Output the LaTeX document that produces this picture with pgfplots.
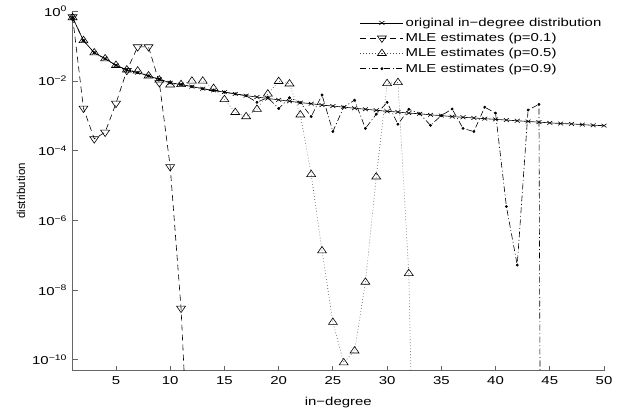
\documentclass[border=0pt]{standalone}
\usepackage{pgfplots}
\pgfplotsset{compat=1.18}
\usepackage{fontspec}
\setmainfont{Liberation Sans}[FakeStretch=1.3]
\newfontfamily\plainsans{Liberation Sans}
\newcommand\pw[1]{10\textsuperscript{#1}}
\definecolor{axgray}{gray}{0.4}
\begin{document}
\begin{tikzpicture}
\begin{axis}[
  scale only axis, width=531.4pt, height=359.4pt,
  xmin=1, xmax=50, ymode=log, ymin=4.9e-11, ymax=1,
  axis lines*=left,
  axis line style={axgray, line width=1pt},
  tick align=inside, major tick length=5pt,
  tick style={axgray, line width=0.8pt},
  yminorticks=false,
  xtick={5,10,...,50},
  ytick={1,1e-2,1e-4,1e-6,1e-8,1e-10},
  yticklabels={\pw{0},\pw{−2},\pw{−4},\pw{−6},\pw{−8},\pw{−10}},
  /pgf/number format/assume math mode=true,
  ticklabel style={font=\fontsize{11.5pt}{13pt}\selectfont},
  xticklabel style={yshift=-2.5pt},
  yticklabel style={xshift=-2pt},
  xlabel={in−degree},
  xlabel style={font=\fontsize{11.5pt}{13pt}\selectfont, yshift=-5pt},
  ylabel={distribution},
  ylabel style={font=\plainsans\fontsize{11.5pt}{13pt}\selectfont},
  legend image code/.code={\draw[mark repeat=2,mark phase=2,#1] plot coordinates {(0pt,0pt) (21.5pt,0pt) (43pt,0pt)};},
  legend style={draw=none, fill=none, at={(axis description cs:0.535,0.993)}, anchor=north west,
    font=\fontsize{11.5pt}{13pt}\selectfont, row sep=1.4pt},
  legend cell align=left,
]
\addplot[black, line width=0.6pt, mark=x, mark size=2.6pt, mark options={solid, xscale=1.35}] coordinates {
(1,6.61e-1) (2,1.45e-1) (3,6.46e-2) (4,4.37e-2) (5,2.82e-2) (6,2.09e-2) (7,1.74e-2) (8,1.41e-2) (9,1.12e-2) (10,8.91e-3)
(11,7.94e-3) (12,6.92e-3) (13,6.03e-3) (14,5.37e-3) (15,4.79e-3) (16,4.27e-3) (17,3.80e-3) (18,3.47e-3) (19,3.16e-3) (20,2.88e-3)
(21,2.63e-3) (22,2.40e-3) (23,2.24e-3) (24,2.04e-3) (25,1.91e-3) (26,1.78e-3) (27,1.66e-3) (28,1.55e-3) (29,1.45e-3) (30,1.35e-3)
(31,1.29e-3) (32,1.20e-3) (33,1.15e-3) (34,1.07e-3) (35,1.02e-3) (36,9.55e-4) (37,9.12e-4) (38,8.71e-4) (39,8.32e-4) (40,7.94e-4)
(41,7.59e-4) (42,7.24e-4) (43,6.92e-4) (44,6.61e-4) (45,6.31e-4) (46,6.03e-4) (47,5.89e-4) (48,5.62e-4) (49,5.37e-4) (50,5.25e-4)
};
\addlegendentry{original in−degree distribution}
\addplot[black, line width=0.6pt, dash pattern=on 6pt off 4pt, mark=triangle, mark size=4.3pt, mark options={solid, rotate=180, xscale=1.2}] coordinates {
(1,6.92e-1) (2,1.66e-3) (3,2.19e-4) (4,3.39e-4) (5,2.29e-3) (6,2.00e-2) (7,9.55e-2) (8,9.55e-2) (9,8.91e-3) (10,3.47e-5)
(11,3.02e-9) (12,1e-15)
};
\addlegendentry{MLE estimates (p=0.1)}
\addplot[black!70, line width=0.6pt, dash pattern=on 0.7pt off 2.3pt, mark=triangle, mark size=4.3pt, mark options={solid, black, xscale=1.2}] coordinates {
(1,6.61e-1) (2,1.45e-1) (3,6.46e-2) (4,4.37e-2) (5,2.82e-2) (6,2.09e-2) (7,1.95e-2) (8,1.41e-2) (9,1.07e-2) (10,7.76e-3)
(11,7.94e-3) (12,1.00e-2) (13,1.00e-2) (14,6.17e-3) (15,2.95e-3) (16,1.26e-3) (17,9.55e-4) (18,1.55e-3) (19,4.27e-3) (20,9.77e-3)
(21,8.32e-3) (22,1.07e-3) (23,2.09e-5) (24,1.35e-7) (25,1.20e-9) (26,8.32e-11) (27,1.82e-10) (28,1.70e-8) (29,1.78e-5) (30,8.51e-3)
(31,9.12e-3) (32,3.02e-8) (33,1e-22)
};
\addlegendentry{MLE estimates (p=0.5)}
\addplot[black, line width=0.6pt, dash pattern=on 6pt off 2.5pt on 1pt off 2.5pt, mark=*, mark size=1.1pt, mark options={solid}] coordinates {
(1,6.61e-1) (2,1.45e-1) (3,6.46e-2) (4,4.37e-2) (5,2.82e-2) (6,2.09e-2) (7,1.74e-2) (8,1.41e-2) (9,1.12e-2) (10,8.91e-3)
(11,7.94e-3) (12,6.92e-3) (13,6.03e-3) (14,5.37e-3) (15,4.79e-3) (16,4.27e-3) (17,3.80e-3) (18,2.45e-3) (19,3.39e-3) (20,1.62e-3)
(21,3.31e-3) (22,2.40e-3) (23,9.55e-4) (24,3.98e-3) (25,3.55e-4) (26,1.78e-3) (27,2.82e-3) (28,4.37e-4) (29,1.12e-3) (30,2.45e-3)
(31,5.75e-4) (32,1.55e-3) (33,1.15e-3) (34,5.37e-4) (35,1.02e-3) (36,1.58e-3) (37,4.37e-4) (38,3.55e-4) (39,1.78e-3) (40,1.20e-3)
(41,2.51e-6) (42,5.25e-8) (43,1.48e-3) (44,2.14e-3) (45,1e-80)
};
\addlegendentry{MLE estimates (p=0.9)}
\coordinate (SW) at (rel axis cs:0,0);
\coordinate (NE) at (rel axis cs:1,1);
\end{axis}
\pgfresetboundingbox
\path[use as bounding box] ([xshift=-72.6pt,yshift=-43.3pt]SW) rectangle ([xshift=23pt,yshift=11.3pt]NE);
\end{tikzpicture}
\end{document}
